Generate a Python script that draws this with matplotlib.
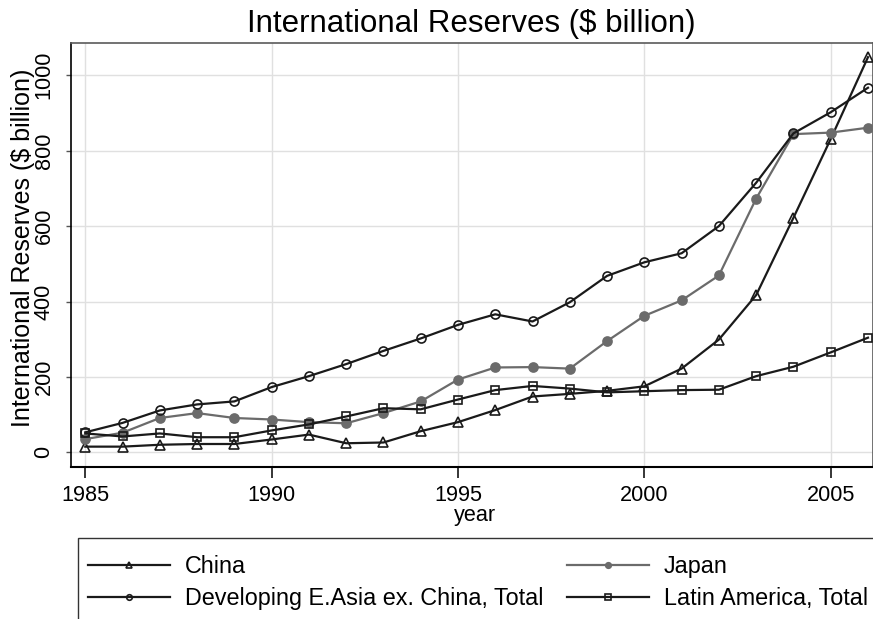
import matplotlib
matplotlib.use("Agg")
import matplotlib.pyplot as plt
from matplotlib.lines import Line2D
from matplotlib.patches import Rectangle

plt.rcParams['font.family'] = ['Liberation Sans', 'DejaVu Sans']

years = list(range(1985, 2007))

china = [15, 15, 20, 22, 22, 34, 47, 24, 26, 56, 80, 112, 148, 155, 163,
         175, 222, 299, 417, 622, 831, 1048]
japan = [35, 52, 91, 104, 91, 87, 80, 77, 104, 135, 193, 225, 226, 222, 295,
         362, 403, 469, 673, 844, 848, 861]
dev_asia = [53, 78, 111, 127, 135, 173, 202, 234, 269, 302, 338, 366, 347, 398,
            468, 504, 528, 600, 715, 846, 902, 967]
latin = [50, 42, 50, 40, 40, 58, 74, 95, 117, 114, 140, 165, 176, 169, 159,
         162, 165, 166, 202, 227, 265, 304]

x_ticks = [1985, 1990, 1995, 2000, 2005]
y_ticks = [0, 200, 400, 600, 800, 1000]

title = "International Reserves ($ billion)"
y_title = "International Reserves ($ billion)"
x_title = "year"
labels = ["China", "Developing E.Asia ex. China, Total", "Japan", "Latin America, Total"]

W, H = 873, 619
fig = plt.figure(figsize=(W / 100, H / 100), dpi=100)
fig.patch.set_facecolor("white")

# plot region in pixel terms
left, right, top, bottom = 70.5, 873.0, 43.3, 466.7
ax = fig.add_axes([left / W, 1 - bottom / H, (right - left) / W, (bottom - top) / H])

dark = "#1a1a1a"
grey = "#6b6b6b"
lw = 1.6
mew = 1.2

ax.plot(years, china, color=dark, lw=lw, marker="^", ms=7.5, mfc="none",
        mec=dark, mew=mew, zorder=3)
ax.plot(years, japan, color=grey, lw=lw, marker="o", ms=6.5, mfc=grey,
        mec=grey, mew=mew, zorder=3)
ax.plot(years, dev_asia, color=dark, lw=lw, marker="o", ms=6.5, mfc="none",
        mec=dark, mew=mew, zorder=3)
ax.plot(years, latin, color=dark, lw=lw, marker="s", ms=6.0, mfc="none",
        mec=dark, mew=mew, zorder=3)

ax.set_xlim(1984.603, 2006.135)
ax.set_ylim(-38.2, 1084.9)
ax.set_xticks(x_ticks)
ax.set_yticks(y_ticks)
ax.grid(True, color="#e0e0e0", lw=1.0, zorder=0)
ax.set_axisbelow(True)

ax.tick_params(axis="x", length=8, width=1.1, color="black", pad=5,
               labelsize=15.6, direction="out")
ax.tick_params(axis="y", length=3.6, width=1.0, color="#555555", pad=7.9,
               labelsize=15.6, direction="out")
for lab in ax.get_yticklabels():
    lab.set_rotation(90)
    lab.set_va("center")

for side in ("top", "right"):
    ax.spines[side].set_color("#5a5a5a")
    ax.spines[side].set_linewidth(1.2)
ax.spines["left"].set_color("black")
ax.spines["left"].set_linewidth(1.2)
ax.spines["bottom"].set_color("black")
ax.spines["bottom"].set_linewidth(1.5)

ax.set_xlabel(x_title, fontsize=15.6, va="baseline")
ax.xaxis.set_label_coords(0.504, (bottom - 521) / (bottom - top))
ax.set_ylabel(y_title, fontsize=18, va="baseline")
ax.yaxis.set_label_coords((30 - left) / (right - left), 0.518)

fig.text(471.5 / W, 1 - 31.7 / H, title, fontsize=22.5, ha="center", va="baseline")

# legend
handles = [
    Line2D([], [], color=dark, lw=lw, marker="^", ms=4.5, mfc="none", mec=dark, mew=mew),
    Line2D([], [], color=dark, lw=lw, marker="o", ms=4.0, mfc="none", mec=dark, mew=mew),
    Line2D([], [], color=grey, lw=lw, marker="o", ms=4.0, mfc=grey, mec=grey, mew=mew),
    Line2D([], [], color=dark, lw=lw, marker="s", ms=4.0, mfc="none", mec=dark, mew=mew),
]
ax.legend(handles, labels, ncol=2, loc="upper left",
          bbox_to_anchor=(88 / W, 1 - 555 / H), bbox_transform=fig.transFigure,
          frameon=False, borderpad=0, borderaxespad=0, fontsize=16.8,
          handlelength=3.52, handletextpad=0.64, columnspacing=0.99,
          labelspacing=0.40)

fig.patches.append(Rectangle((77.7 / W, -0.02), 1.0, (H - 538.3) / H + 0.02,
                             transform=fig.transFigure, fill=False,
                             edgecolor="#333333", lw=1.0))

fig.savefig("out.png", dpi=100)
